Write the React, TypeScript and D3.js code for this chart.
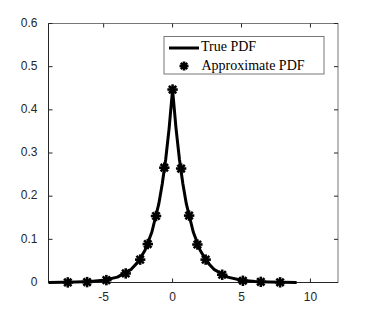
import * as d3 from "d3";
import React from "react";

// true pdf curve
const curveX = [-9, -8, -7, -6, -5, -4, -3, -2.5, -2, -1.5, -1, -0.75, -0.5, -0.25, 0,
  0.25, 0.5, 0.75, 1, 1.5, 2, 2.5, 3, 4, 5, 6, 7, 8, 9]
const curveY = [0.0001, 0.0004, 0.0009, 0.0021, 0.0051, 0.0125, 0.0305, 0.0478, 0.0748, 0.117, 0.182, 0.228, 0.285, 0.357, 0.447,
  0.357, 0.285, 0.228, 0.182, 0.117, 0.0748, 0.0478, 0.0305, 0.0125, 0.0051, 0.0021, 0.0009, 0.0004, 0.0001]

// approximate pdf samples
const sampleX = [-7.6, -6.2, -4.8, -3.4, -2.35, -1.8, -1.2, -0.6, 0, 0.62, 1.2, 1.8, 2.4, 3.6, 5.1, 6.4, 7.8]
const sampleY = [0.0002, 0.0009, 0.0055, 0.021, 0.053, 0.089, 0.154, 0.266, 0.447, 0.264, 0.155, 0.088, 0.053, 0.018, 0.004, 0.0015, 0.0004]

const xTicks = [-5, 0, 5, 10]
const yTicks = [0, 0.1, 0.2, 0.3, 0.4, 0.5, 0.6]

const W = 374
const H = 317
const left = 48.5, right = 338, top = 23.5, bottom = 282.5

function Star({ x, y, r = 5.2 }: { x: number, y: number, r?: number }) {
  const d = r * Math.SQRT1_2
  return (
    <g stroke="#000" strokeWidth={2.6}>
      <line x1={x - r} y1={y} x2={x + r} y2={y} />
      <line x1={x} y1={y - r} x2={x} y2={y + r} />
      <line x1={x - d} y1={y - d} x2={x + d} y2={y + d} />
      <line x1={x - d} y1={y + d} x2={x + d} y2={y - d} />
    </g>
  )
}

export default function App() {
  const x = d3.scaleLinear().domain([-9, 12]).range([left, right])
  const y = d3.scaleLinear().domain([0, 0.6]).range([bottom, top])

  const line = d3.line<number>()
    .x((d, i) => x(curveX[i]))
    .y(d => y(d))

  const axisColor = "#262626"
  const tickLen = 4

  return (
    <div style={{ position: "absolute", left: 0, top: 0 }}>
      <svg width={W} height={H} style={{ display: "block", background: "#fff" }}>
        {/* box */}
        <rect x={left} y={top} width={right - left} height={bottom - top} fill="none" stroke="#777" strokeWidth={1} />
        {/* ticks */}
        {xTicks.map(t => (
          <g key={"x" + t}>
            <line x1={x(t)} x2={x(t)} y1={bottom} y2={bottom - tickLen} stroke={axisColor} />
            <line x1={x(t)} x2={x(t)} y1={top} y2={top + tickLen} stroke={axisColor} />
            <text x={x(t)} y={bottom + 15} textAnchor="middle" dominantBaseline="middle"
              fontFamily="Liberation Sans, Arial, sans-serif" fontSize={12} fill={axisColor}>{t}</text>
          </g>
        ))}
        {yTicks.map(t => (
          <g key={"y" + t}>
            <line x1={left} x2={left + tickLen} y1={y(t)} y2={y(t)} stroke={axisColor} />
            <line x1={right} x2={right - tickLen} y1={y(t)} y2={y(t)} stroke={axisColor} />
            <text x={left - 11} y={y(t)} textAnchor="end" dominantBaseline="middle"
              fontFamily="Liberation Sans, Arial, sans-serif" fontSize={12} fill={axisColor}>{t}</text>
          </g>
        ))}
        {/* left/bottom axis lines darker */}
        <line x1={left} x2={left} y1={top} y2={bottom} stroke={axisColor} />
        <line x1={left} x2={right} y1={bottom} y2={bottom} stroke={axisColor} />

        <path d={line(curveY) || ""} fill="none" stroke="#000" strokeWidth={3} strokeLinejoin="round" />
        {sampleY.map((v, i) => <Star key={i} x={x(sampleX[i])} y={y(v)} />)}

        {/* legend */}
        <rect x={164} y={36.5} width={160} height={37.5} fill="#fff" stroke="#777" />
        <line x1={169} x2={199} y1={48} y2={48} stroke="#000" strokeWidth={3} />
        <text x={201} y={48} dominantBaseline="middle" fontFamily="Liberation Serif, Times New Roman, serif" fontSize={14} fill="#000">True PDF</text>
        <Star x={184} y={66} r={4.5} />
        <text x={201.5} y={66.5} dominantBaseline="middle" fontFamily="Liberation Serif, Times New Roman, serif" fontSize={14} fill="#000">Approximate PDF</text>
      </svg>
    </div>
  )
}
